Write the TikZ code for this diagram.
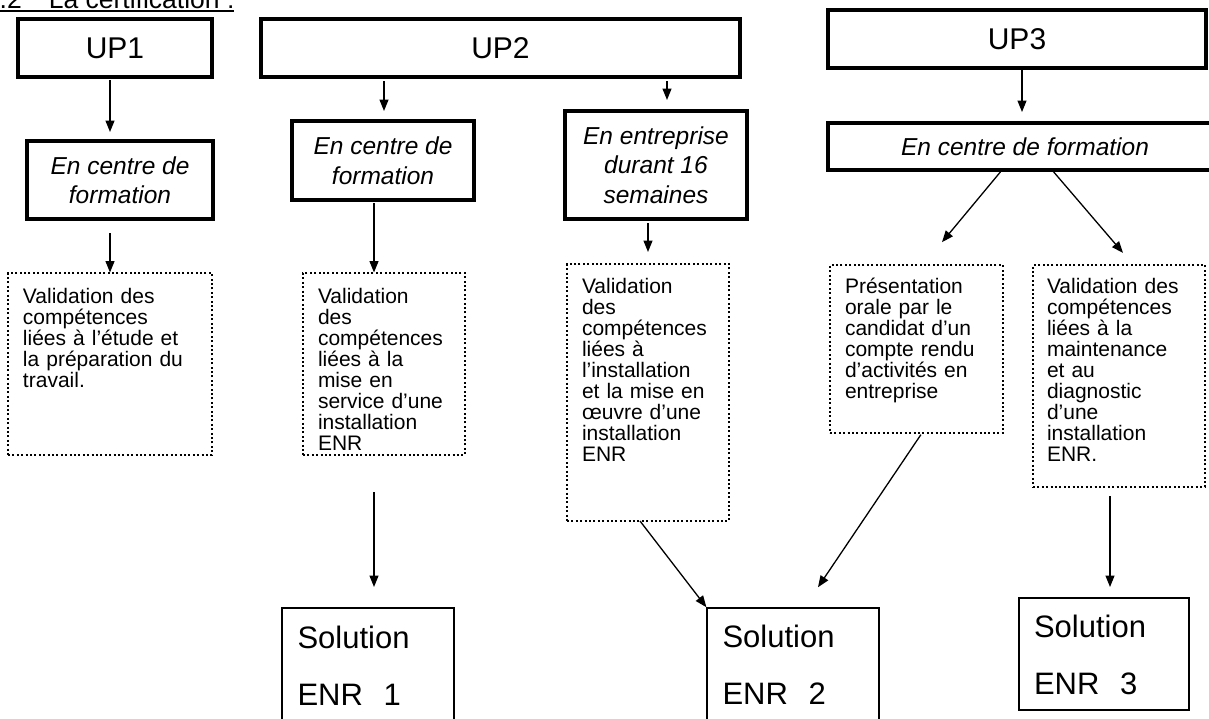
\documentclass[tikz,border=0pt]{standalone}
\usepackage{fontspec}
\setmainfont{Liberation Sans}
\usetikzlibrary{arrows.meta}
\lineskiplimit=-50pt
\begin{document}
\begin{tikzpicture}[x=1pt,y=-1pt,
  upbox/.style={draw, line width=3.7pt, inner sep=0pt, outer sep=0pt, align=center, font=\fontsize{30}{36}\selectfont},
  itbox/.style={draw, line width=3.7pt, inner sep=0pt, outer sep=0pt, align=center, font=\fontsize{24.5}{29.5}\selectfont\itshape},
  dotbox/.style={draw, line width=2pt, dash pattern=on 2pt off 2.4pt, anchor=north west, inner xsep=15pt, inner ysep=0pt, outer sep=0pt, align=left, font=\fontsize{21}{21}\selectfont},
  solbox/.style={draw, line width=2.2pt, anchor=north west, inner xsep=15.5pt, inner ysep=0pt, outer sep=0pt, align=left, font=\fontsize{31}{57.5}\selectfont},
  arr/.style={line width=1.3pt, -{Triangle[length=11.5pt,width=9pt]}}
]
\path[use as bounding box, fill=white] (0,0) rectangle (1209,718);

% header (cut by the page edge)
\node[anchor=base west, inner sep=0pt, outer sep=0pt, font=\fontsize{26.5}{30}\selectfont] (hdr) at (-15,8.5) {4.2\hspace{27pt}La certification :};
\draw[line width=1.8pt] ([yshift=-2.2pt]hdr.base west) -- ([yshift=-2.2pt]hdr.base east);

% UP boxes
\node[upbox, minimum width=194pt, minimum height=58pt] (up1) at (115,48) {UP1};
\node[upbox, minimum width=479pt, minimum height=58pt] (up2) at (500.5,48) {UP2};
\node[upbox, minimum width=378pt, minimum height=58pt] (up3) at (1017,39) {UP3};

% second row
\node[itbox, minimum width=186pt, minimum height=78pt] (cf1) at (120,180) {En centre de\\formation};
\node[itbox, minimum width=182pt, minimum height=79pt] (cf2) at (383,160.5) {En centre de\\formation};
\node[itbox, minimum width=182pt, minimum height=108pt] (ent) at (656,165) {En entreprise\\durant 16\\semaines};
\node[itbox, minimum width=394pt, minimum height=47pt] (cf3) at (1025,146.5) {En centre de formation};

% dotted boxes
\node[dotbox, text width=174pt, text height=30pt, text depth=152pt] (v1) at (8,273)
  {Validation des\\compétences\\liées à l’étude et\\la préparation du\\travail.};
\node[dotbox, text width=132pt, text height=30pt, text depth=152pt] (v2) at (303,273)
  {Validation\\des\\compétences\\liées à la\\mise en\\service d’une\\installation\\ENR};
\node[dotbox, text width=132pt, text height=29pt, text depth=228pt] (v3) at (567,264)
  {Validation\\des\\compétences\\liées à\\l’installation\\et la mise en\\œuvre d’une\\installation\\ENR};
\node[dotbox, text width=143pt, text height=28pt, text depth=140pt] (v4) at (830,265)
  {Présentation\\orale par le\\candidat d’un\\compte rendu\\d’activités en\\entreprise};
\node[dotbox, inner xsep=14pt, text width=144pt, text height=28pt, text depth=194pt] (v5) at (1033,265)
  {Validation des\\compétences\\liées à la\\maintenance\\et au\\diagnostic\\d’une\\installation\\ENR.};

% solution boxes
\node[solbox, text width=141pt, text height=40pt, text depth=92pt] (s1) at (282,608) {Solution\\ENR\ \ 1};
\node[solbox, text width=141pt, text height=39pt, text depth=92pt] (s2) at (707,608) {Solution\\ENR\ \ 2};
\node[solbox, inner xsep=15pt, text width=140pt, text height=39pt, text depth=73pt] (s3) at (1019,598) {Solution\\ENR\ \ 3};

% connectors
\draw[arr, shorten <=3pt, shorten >=9pt] ([xshift=-5pt]up1.south) -- ([xshift=-10pt]cf1.north);
\draw[arr, shorten <=14pt, shorten >=0.5pt] ([xshift=-10pt]cf1.south) -- (v1.north);
\draw[arr, shorten <=4pt, shorten >=10pt] ([xshift=-116.5pt]up2.south) -- ([xshift=1pt]cf2.north);
\draw[arr, shorten <=4pt, shorten >=11pt] ([xshift=166.5pt]up2.south) -- ([xshift=11pt]ent.north);
\draw[arr, shorten <=3pt, shorten >=0.5pt] ([xshift=-9pt]cf2.south) -- ([xshift=-10pt]v2.north);
\draw[arr, shorten <=4pt, shorten >=12pt] ([xshift=-8pt]ent.south) -- (v3.north);
\draw[arr, shorten <=2pt, shorten >=11pt] ([xshift=5pt]up3.south) -- ([xshift=-3pt]cf3.north);
\draw[arr, shorten <=2.5pt, shorten >=29.7pt] ([xshift=-23pt]cf3.south) -- ([xshift=6.5pt]v4.north);
\draw[arr, shorten <=1.5pt, shorten >=16pt] ([xshift=27pt]cf3.south) -- ([xshift=14.4pt]v5.north);
\draw[arr, shorten <=37pt, shorten >=21pt] ([xshift=-10pt]v2.south) -- ([xshift=6pt]s1.north);
\draw[arr, shorten >=1pt] ([xshift=-8pt]v3.south) -- (s2.north west);
\draw[arr, shorten <=2pt, shorten >=25pt] ([xshift=5.5pt]v4.south) -- ([xshift=11pt]s2.north);
\draw[arr, shorten <=9pt, shorten >=11pt] ([xshift=-9pt]v5.south) -- ([xshift=6pt]s3.north);
\end{tikzpicture}
\end{document}
